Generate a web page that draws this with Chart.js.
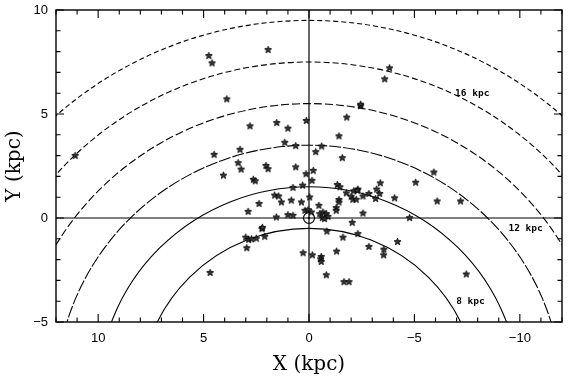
<!DOCTYPE html>
<html><head><meta charset="utf-8">
<script src="https://cdn.jsdelivr.net/npm/chart.js@4"></script>
<style>html,body{margin:0;padding:0;background:#fff;}</style>
</head><body>
<canvas id="c" width="570" height="380"></canvas>
<script>
// ---- data ----
const starX = [4.75,4.6,1.94,3.9,11.09,2.8,1.53,1.0,1.15,0.63,4.5,3.27,3.36,3.22,4.06,2.04,1.94,0.63,2.64,2.55,0.76,
  -3.82,-3.59,-2.45,-2.45,-1.79,0.13,-1.42,-0.6,-0.32,-1.58,0.14,-0.2,-0.14,0.30,-5.92,-5.06,-3.38,-1.34,-1.47,-2.32,-3.21,
  -1.77,-2.12,-2.0,-2.08,-2.24,-2.56,-2.84,-3.35,-3.16,-4.06,-1.42,-1.42,-1.29,-1.29,-0.47,-0.03,-2.56,-4.77,-2.05,
  0.19,0.05,-0.11,-0.51,-0.66,-0.82,-0.9,-0.63,-0.74,1.63,1.44,1.31,0.84,0.36,2.37,2.89,1.55,1.0,0.76,
  2.23,2.21,3.0,2.86,2.73,2.5,2.1,2.95,4.69,0.28,-0.16,-0.85,-1.61,-2.32,-2.84,-3.55,-3.54,-4.2,
  -0.58,-0.55,-0.58,-1.31,-0.82,-1.66,-1.9,-7.46,-6.08,-7.19,-2.29];
const starY = [7.81,7.46,8.1,5.73,3.01,4.43,4.59,4.32,3.64,3.48,3.06,3.30,2.66,2.35,2.06,2.53,2.37,2.46,1.86,1.79,1.47,
  7.22,6.69,5.40,5.47,4.85,4.69,3.95,3.46,3.19,2.90,2.13,2.29,1.81,1.58,2.21,1.72,1.69,1.61,1.50,1.39,1.39,
  1.21,1.31,1.05,0.90,0.90,1.06,1.18,1.18,0.94,0.97,0.89,0.77,0.50,0.37,0.61,1.01,0.24,0.02,-0.21,
  0.37,0.40,0.29,0.21,0.29,0.21,0.08,0.02,-0.03,1.10,1.06,0.77,0.86,0.77,0.70,0.32,0.05,0.16,0.13,
  -0.51,-0.45,-0.92,-1.03,-1.0,-0.97,-0.88,-1.43,-2.62,-1.67,-1.77,-0.63,-0.92,-0.75,-1.37,-1.50,-1.77,-1.13,
  -1.85,-1.96,-2.09,-1.59,-2.73,-3.06,-3.06,-2.69,0.82,0.82,1.34];
const sunX = [0];
const sunY = [0];
const ringRadii = [8, 10, 12, 14, 16, 18];   // galactocentric radii (kpc)
const galCenterX = 0;
const galCenterY = -8.5;
const ringLabels = ['16 kpc', '12 kpc', '8 kpc'];
const ringLabelX = [-6.93, -9.46, -6.98];
const ringLabelY = [6.0, -0.5, -4.0];
const xMajor = [10, 5, 0, -5, -10];
const yMajor = [10, 5, 0, -5];

// ---- styles ----
const ringDash = {8: [], 10: [], 12: [12, 2], 14: [8, 3], 16: [6, 3], 18: [5, 3]};
function fmt(v){ return v < 0 ? '\u2212' + Math.abs(v) : String(v); }

function makeStar(){
  const c = document.createElement('canvas'); c.width = 9; c.height = 9;
  const g = c.getContext('2d');
  g.beginPath();
  for (let i = 0; i < 10; i++) {
    const r = i % 2 ? 1.5 : 3.6;
    const a = -Math.PI/2 + i*Math.PI/5;
    g.lineTo(4.5 + r*Math.cos(a), 4.8 + r*Math.sin(a));
  }
  g.closePath();
  g.fillStyle = '#3a3a3a'; g.fill();
  g.strokeStyle = '#000'; g.lineWidth = 0.9; g.stroke();
  return c;
}
const starImg = makeStar();

const decor = {
  id: 'decor',
  beforeDatasetsDraw(chart) {
    const {ctx, chartArea: a, scales: {x, y}} = chart;
    ctx.save();
    ctx.beginPath(); ctx.rect(a.left, a.top, a.right - a.left, a.bottom - a.top); ctx.clip();
    ctx.strokeStyle = '#000'; ctx.lineWidth = 1.1;
    const cx = x.getPixelForValue(galCenterX), cy = y.getPixelForValue(galCenterY);
    ringRadii.forEach(R => {
      const rx = Math.abs(x.getPixelForValue(galCenterX + R) - cx);
      const ry = Math.abs(y.getPixelForValue(galCenterY + R) - cy);
      ctx.setLineDash(ringDash[R] || []);
      ctx.beginPath(); ctx.ellipse(cx, cy, rx, ry, 0, 0, Math.PI*2); ctx.stroke();
    });
    ctx.setLineDash([]);
    ctx.lineWidth = 1.2;
    const x0 = x.getPixelForValue(0), y0 = y.getPixelForValue(0);
    ctx.beginPath(); ctx.moveTo(x0, a.top); ctx.lineTo(x0, a.bottom); ctx.stroke();
    ctx.beginPath(); ctx.moveTo(a.left, y0); ctx.lineTo(a.right, y0); ctx.stroke();
    // ring labels
    ctx.fillStyle = '#000';
    ctx.font = 'bold 9.5px "DejaVu Sans Mono"';
    ctx.textAlign = 'left'; ctx.textBaseline = 'middle';
    ringLabels.forEach((t, i) => {
      const px = x.getPixelForValue(ringLabelX[i]), py = y.getPixelForValue(ringLabelY[i]);
      ctx.fillText(t, px, py);
    });
    ctx.restore();
  },
  afterDraw(chart) {
    const {ctx, chartArea: a, scales: {x, y}} = chart;
    ctx.save();
    ctx.strokeStyle = '#000'; ctx.lineWidth = 1.4;
    ctx.strokeRect(a.left, a.top, a.right - a.left, a.bottom - a.top);
    ctx.lineWidth = 1.1;
    x.ticks.forEach(t => {
      const p = x.getPixelForValue(t.value);
      const L = xMajor.includes(t.value) ? 8 : 4.5;
      ctx.beginPath();
      ctx.moveTo(p, a.bottom); ctx.lineTo(p, a.bottom - L);
      ctx.moveTo(p, a.top); ctx.lineTo(p, a.top + L);
      ctx.stroke();
    });
    y.ticks.forEach(t => {
      const p = y.getPixelForValue(t.value);
      const L = yMajor.includes(t.value) ? 8 : 4.5;
      ctx.beginPath();
      ctx.moveTo(a.left, p); ctx.lineTo(a.left + L, p);
      ctx.moveTo(a.right, p); ctx.lineTo(a.right - L, p);
      ctx.stroke();
    });
    ctx.restore();
  }
};

new Chart(document.getElementById('c'), {
  type: 'scatter',
  data: {
    datasets: [
      { data: starX.map((v, i) => ({x: v, y: starY[i]})), pointStyle: starImg, pointRadius: 4.5 },
      { data: sunX.map((v, i) => ({x: v, y: sunY[i]})), pointStyle: 'circle', pointRadius: 5.5,
        backgroundColor: 'rgba(0,0,0,0)', borderColor: '#000', borderWidth: 1.2 },
      { data: sunX.map((v, i) => ({x: v, y: sunY[i]})), pointStyle: 'circle', pointRadius: 1.3,
        backgroundColor: '#000', borderColor: '#000', borderWidth: 0 }
    ]
  },
  options: {
    responsive: false, animation: false, devicePixelRatio: 1,
    layout: { padding: { top: 10, right: 8, left: 0, bottom: 0 } },
    plugins: { legend: { display: false }, tooltip: { enabled: false } },
    scales: {
      x: {
        type: 'linear', position: 'bottom', reverse: true, min: -12, max: 12,
        grid: { display: false, drawTicks: false }, border: { display: false },
        ticks: { stepSize: 1, autoSkip: false, maxRotation: 0, padding: 9, color: '#000',
          font: { family: 'Liberation Sans', size: 13 },
          callback: v => xMajor.includes(v) ? fmt(v) : '' },
        title: { display: true, text: 'X (kpc)', color: '#000',
          font: { family: 'DejaVu Serif', size: 20 }, padding: { top: 0, bottom: 3 } },
        afterFit: s => { s.height = 58; s.paddingLeft = 0; s.paddingRight = 0; }
      },
      y: {
        type: 'linear', min: -5, max: 10,
        grid: { display: false, drawTicks: false }, border: { display: false },
        ticks: { stepSize: 1, autoSkip: false, padding: 8, color: '#000',
          font: { family: 'Liberation Sans', size: 13 },
          callback: v => yMajor.includes(v) ? fmt(v) : '' },
        title: { display: true, text: 'Y (kpc)', color: '#000',
          font: { family: 'DejaVu Serif', size: 20 }, padding: { top: 3, bottom: 0 } },
        afterFit: s => { s.width = 56; s.paddingTop = 0; s.paddingBottom = 0; }
      }
    }
  },
  plugins: [decor]
});
</script>
</body></html>
